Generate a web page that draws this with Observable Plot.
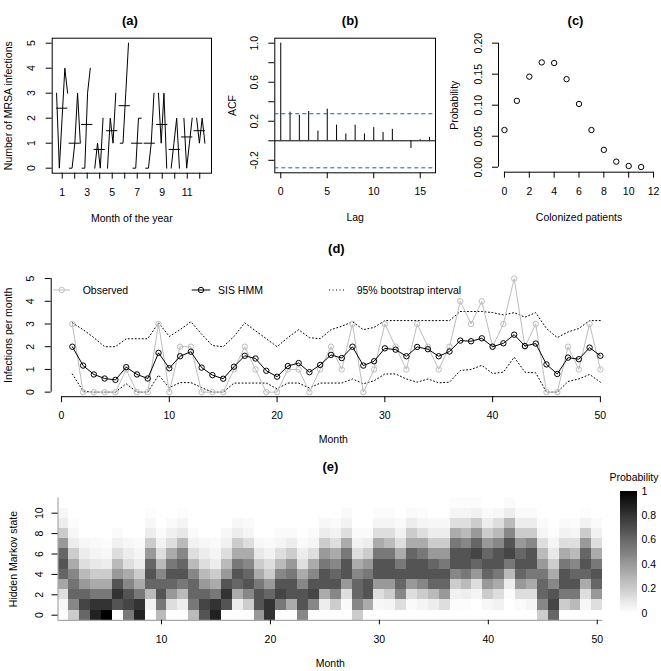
<!DOCTYPE html>
<html><head><meta charset="utf-8">
<script src="https://cdn.jsdelivr.net/npm/d3@7"></script>
<script src="https://cdn.jsdelivr.net/npm/@observablehq/plot@0.6"></script>
<style>
body{margin:0;background:#fff;}
#root{position:relative;width:661px;height:671px;overflow:hidden;background:#fff;}
#root svg{position:absolute;overflow:visible;}
</style></head><body><div id="root"></div>
<script>
// ---------------- DATA ----------------
const months = [1,2,3,4,5,6,7,8,9,10,11,12,13,14,15,16,17,18,19,20,21,22,23,24,25,26,27,28,29,30,31,32,33,34,35,36,37,38,39,40,41,42,43,44,45,46,47,48,49,50];
const observed = [3,0,0,0,0,1,0,0,3,0,2,2,0,0,0,1,2,1,0,0,1,1,0,1,2,1,3,0,1,3,2,1,3,2,1,2,4,3,4,2,3,5,2,3,0,0,2,1,3,1];
const sisHmm = [2.0,1.17,0.78,0.6,0.54,1.1,0.78,0.6,1.73,1.05,1.58,1.78,1.08,0.75,0.59,1.12,1.6,1.48,0.94,0.68,1.15,1.28,0.88,1.2,1.64,1.5,2.0,1.17,1.36,1.93,1.87,1.58,1.99,1.89,1.58,1.79,2.27,2.24,2.37,2.0,2.15,2.53,2.03,2.14,1.22,0.8,1.52,1.45,1.96,1.6];
const upper95 = [3.05,2.75,2.4,2.0,2.0,2.35,2.35,2.35,3.05,2.45,2.75,3.1,2.55,2.05,2.0,2.45,3.05,2.7,2.35,2.0,2.4,2.75,2.4,2.35,2.75,2.9,3.1,2.75,2.85,3.15,3.15,3.15,3.15,3.15,3.15,3.15,3.55,3.55,3.55,3.5,3.4,3.5,3.3,3.5,2.8,2.4,2.65,2.8,3.15,3.15];
const lower95 = [0.8,0.05,0,0,0,0.37,0,0,0.75,0.2,0.42,0.42,0.2,0,0,0.4,0.4,0.4,0.4,0.15,0.4,0.4,0.18,0.4,0.4,0.4,0.58,0.37,0.5,0.8,0.8,0.58,0.44,0.58,0.41,0.44,0.95,1.0,1.18,0.82,0.88,1.54,0.88,0.85,0,0,0.47,0.58,0.78,0.44];

const monthOfYear = [1,2,3,4,5,6,7,8,9,10,11,12];

const acfLag = [0,1,2,3,4,5,6,7,8,9,10,11,12,13,14,15,16];
const acfValue = [1.0,0.293,0.26,0.30,0.10,0.324,0.16,0.07,0.16,0.07,0.135,0.086,0.117,0.003,-0.08,0.01,0.035];
const acfBound = 0.277;

const colonized = [0,1,2,3,4,5,6,7,8,9,10,11];
const colonizedProb = [0.060,0.107,0.146,0.169,0.168,0.142,0.102,0.060,0.028,0.009,0.002,0.0003];

const hmmStates = [0,1,2,3,4,5,6,7,8,9,10,11];
// probability (legend scale) for states 0..11, one row per month 1..50
const stateProb = [
[0,0.03,0.13,0.35,0.6,0.67,0.6,0.4,0.2,0.07,0.03,0],
[0.2,0.47,0.6,0.55,0.47,0.33,0.2,0.07,0.03,0.01,0,0],
[0.6,0.73,0.6,0.4,0.27,0.13,0.07,0.03,0,0,0,0],
[0.87,0.8,0.53,0.33,0.2,0.09,0.04,0.02,0,0,0,0],
[1,0.8,0.53,0.33,0.2,0.07,0.03,0.01,0,0,0,0],
[0,0.67,0.8,0.67,0.4,0.27,0.13,0.06,0.02,0,0,0],
[0.53,0.73,0.67,0.47,0.33,0.13,0.07,0.03,0,0,0,0],
[0.87,0.8,0.53,0.33,0.2,0.07,0.04,0.02,0,0,0,0],
[0,0.05,0.27,0.6,0.67,0.6,0.4,0.2,0.07,0.03,0.01,0],
[0.27,0.53,0.67,0.6,0.47,0.27,0.13,0.05,0.02,0,0,0],
[0,0.13,0.4,0.6,0.67,0.53,0.33,0.13,0.06,0.02,0,0],
[0,0.07,0.27,0.53,0.67,0.6,0.47,0.27,0.09,0.04,0.01,0],
[0.27,0.53,0.6,0.6,0.47,0.27,0.13,0.05,0.02,0,0,0],
[0.67,0.73,0.6,0.4,0.27,0.13,0.07,0.03,0,0,0,0],
[0.87,0.8,0.53,0.33,0.2,0.07,0.04,0.02,0,0,0,0],
[0,0.67,0.8,0.67,0.4,0.27,0.13,0.06,0.03,0,0,0],
[0,0.07,0.33,0.6,0.67,0.53,0.33,0.2,0.07,0.03,0,0],
[0,0.2,0.47,0.67,0.6,0.47,0.33,0.13,0.04,0.02,0,0],
[0.4,0.67,0.67,0.53,0.33,0.2,0.09,0.03,0,0,0,0],
[0.8,0.8,0.6,0.4,0.2,0.13,0.05,0.02,0,0,0,0],
[0,0.53,0.73,0.67,0.47,0.27,0.13,0.04,0.02,0,0,0],
[0,0.33,0.67,0.67,0.53,0.4,0.2,0.07,0.02,0,0,0],
[0.47,0.67,0.67,0.47,0.33,0.13,0.07,0.02,0,0,0,0],
[0,0.47,0.73,0.67,0.47,0.33,0.13,0.04,0.02,0,0,0],
[0,0.07,0.33,0.67,0.67,0.53,0.4,0.2,0.07,0.03,0,0],
[0,0.2,0.47,0.67,0.6,0.47,0.33,0.13,0.05,0.02,0,0],
[0,0.02,0.13,0.4,0.67,0.67,0.53,0.33,0.13,0.05,0.02,0],
[0.2,0.47,0.6,0.6,0.47,0.33,0.13,0.05,0.02,0,0,0],
[0,0.33,0.67,0.67,0.53,0.4,0.2,0.07,0.02,0,0,0],
[0,0.03,0.13,0.4,0.67,0.67,0.53,0.33,0.13,0.04,0.01,0],
[0,0.04,0.2,0.4,0.67,0.67,0.53,0.27,0.13,0.04,0.01,0],
[0,0.13,0.47,0.6,0.67,0.53,0.33,0.13,0.05,0.02,0,0],
[0,0.02,0.13,0.4,0.67,0.67,0.6,0.33,0.2,0.07,0.02,0],
[0,0.04,0.2,0.47,0.67,0.67,0.53,0.33,0.13,0.04,0.01,0],
[0,0.07,0.27,0.6,0.67,0.6,0.4,0.2,0.07,0.03,0,0],
[0,0.13,0.4,0.6,0.67,0.53,0.4,0.2,0.07,0.03,0,0],
[0,0.01,0.05,0.2,0.47,0.67,0.67,0.53,0.33,0.13,0.04,0.01],
[0,0.01,0.07,0.27,0.53,0.67,0.67,0.47,0.27,0.13,0.04,0.01],
[0,0,0.04,0.13,0.4,0.6,0.73,0.6,0.4,0.2,0.05,0.01],
[0,0.03,0.2,0.4,0.6,0.67,0.6,0.4,0.2,0.07,0.02,0],
[0,0.05,0.13,0.33,0.53,0.67,0.67,0.47,0.27,0.13,0.03,0],
[0,0,0.01,0.07,0.27,0.53,0.73,0.67,0.47,0.27,0.07,0.02],
[0,0.02,0.13,0.4,0.6,0.67,0.6,0.4,0.2,0.07,0.02,0],
[0,0.04,0.13,0.33,0.53,0.67,0.67,0.47,0.2,0.07,0.02,0],
[0.2,0.47,0.6,0.6,0.53,0.4,0.27,0.13,0.04,0.02,0,0],
[0.6,0.73,0.67,0.47,0.33,0.2,0.09,0.04,0.01,0,0,0],
[0,0.2,0.53,0.67,0.67,0.53,0.33,0.13,0.05,0.02,0,0],
[0,0.27,0.53,0.67,0.6,0.47,0.27,0.13,0.04,0.01,0,0],
[0,0.03,0.13,0.33,0.6,0.67,0.6,0.4,0.2,0.05,0.01,0],
[0,0.13,0.4,0.6,0.67,0.53,0.33,0.13,0.05,0.02,0,0]
];

// tick values
const aYTicks = [0,1,2,3,4,5];
const bXTicks = [0,5,10,15];
const bYTicks = [-0.2,0,0.2,0.4,0.6,0.8,1.0];
const cXTicks = [0,2,4,6,8,10,12];
const cYTicks = [0,0.05,0.10,0.15,0.20];
const dXTicks = [0,10,20,30,40,50];
const dYTicks = [0,1,2,3,4,5];
const eXTicks = [10,20,30,40,50];
const eYTicks = [0,2,4,6,8,10];
const legendTicks = [0,0.2,0.4,0.6,0.8,1];

// ---------------- LAYOUT ----------------
const FONT = '"Liberation Sans", Arial, Helvetica, sans-serif';
const root = document.getElementById("root");
const baseStyle = {fontFamily: FONT, fontSize: "10.5px", background: "none", overflow: "visible", color: "black"};
function place(svg, left, top) { svg.style.left = left + "px"; svg.style.top = top + "px"; root.appendChild(svg); return svg; }
const txt = d => d;
const C = {textAnchor: "middle", lineAnchor: "middle", text: txt};
const title = (s, o) => Plot.text([s], {...C, frameAnchor: "top", fontWeight: "bold", fontSize: 13, ...o});
const ylab = (s, o) => Plot.text([s], {...C, frameAnchor: "left", rotate: -90, ...o});
const xlab = (s, o) => Plot.text([s], {...C, frameAnchor: "bottom", ...o});

// ---------- (a) month plot ----------
const span = months[months.length - 1] - months[0];
const obsRows = observed.map((v, i) => {
  const t = months[i], m = (t - 1) % 12 + 1;
  return {t, v, m, x: m + (t - months[0]) * 0.9 / span - 0.45};
});
const meanRows = monthOfYear.map(m => ({m, mean: d3.mean(obsRows.filter(d => d.m === m), d => d.v)}));

place(Plot.plot({
  width: 220, height: 230, marginLeft: 51.7, marginRight: 9, marginTop: 37.7, marginBottom: 57.3,
  x: {domain: [0.2, 12.94]}, y: {domain: [-0.2, 5.2]},
  style: baseStyle,
  marks: [
    Plot.frame({stroke: "black"}),
    Plot.line(obsRows, {x: "x", y: "v", z: "m", stroke: "black", strokeWidth: 1}),
    Plot.ruleY(meanRows, {y: "mean", x1: d => d.m - 0.45, x2: d => d.m + 0.45, stroke: "black"}),
    Plot.axisX({ticks: monthOfYear, tickSize: 6, tickPadding: 9, tickFormat: d => (d % 2 ? String(d) : ""), label: null}),
    Plot.axisY({ticks: aYTicks, tickSize: 6, tickPadding: 11, tickRotate: -90, tickFormat: d => String(d), label: null}),
    title("(a)", {dy: -17.7, dx: -2}),
    ylab("Number of MRSA infections", {dx: -43.4}),
    xlab("Month of the year", {dy: 45})
  ]
}), 0, 0);

// ---------- (b) ACF ----------
const acfRows = acfLag.map((l, i) => ({lag: l, acf: acfValue[i]}));
place(Plot.plot({
  width: 220, height: 230, marginLeft: 54.3, marginRight: 5, marginTop: 37.7, marginBottom: 57.7,
  x: {domain: [-0.64, 16.64]}, y: {domain: [-0.328, 1.051]},
  style: baseStyle,
  marks: [
    Plot.frame({stroke: "black"}),
    Plot.ruleY([0], {stroke: "black"}),
    Plot.ruleX(acfRows, {x: "lag", y1: 0, y2: "acf", stroke: "black"}),
    Plot.ruleY([acfBound, -acfBound], {stroke: "#1f55c8", strokeDasharray: "4,3"}),
    Plot.axisX({ticks: bXTicks, tickSize: 6, tickPadding: 9, tickFormat: d => String(d), label: null}),
    Plot.axisY({ticks: bYTicks, tickSize: 6, tickPadding: 11, tickRotate: -90,
      tickFormat: d => ((Math.round(d * 10) + 2) % 4 === 0 ? d.toFixed(1) : ""), label: null}),
    title("(b)", {dy: -17.7, dx: -5}),
    ylab("ACF", {dx: -42}),
    xlab("Lag", {dy: 45})
  ]
}), 220, 0);

// ---------- (c) stationary distribution ----------
const cXDom = [-0.48, 12.48], cYDom = [-0.008, 0.208];
const cRows = colonized.map((k, i) => ({k, p: colonizedProb[i]}));
place(Plot.plot({
  width: 221, height: 230, marginLeft: 58, marginRight: 2, marginTop: 37.7, marginBottom: 58.3,
  x: {domain: cXDom}, y: {domain: cYDom},
  style: baseStyle,
  marks: [
    Plot.ruleY([cYDom[0]], {x1: cXTicks[0], x2: cXTicks[cXTicks.length - 1], stroke: "black"}),
    Plot.ruleX([cXDom[0]], {y1: cYTicks[0], y2: cYTicks[cYTicks.length - 1], stroke: "black"}),
    Plot.dot(cRows, {x: "k", y: "p", r: 2.7, stroke: "black", strokeWidth: 1, fill: "none"}),
    Plot.axisX({ticks: cXTicks, tickSize: 6, tickPadding: 9, tickFormat: d => String(d), label: null}),
    Plot.axisY({ticks: cYTicks, tickSize: 6, tickPadding: 11, tickRotate: -90, tickFormat: d => d.toFixed(2), label: null}),
    title("(c)", {dy: -17.7, dx: -3.5}),
    ylab("Probability", {dx: -44}),
    xlab("Colonized patients", {dy: 45.5})
  ]
}), 440, 0);

// ---------- (d) observed vs fitted ----------
const dXDom = [-0.96, 51.96], dYDom = [-0.2, 5.2];
const dRows = months.map((t, i) => ({t, obs: observed[i], fit: sisHmm[i], hi: upper95[i], lo: lower95[i]}));
const GREY = "#bdbdbd";
const plotD = Plot.plot({
  width: 661, height: 215, marginLeft: 50.7, marginRight: 40, marginTop: 38.5, marginBottom: 53.8,
  x: {domain: dXDom}, y: {domain: dYDom},
  style: baseStyle,
  marks: [
    Plot.ruleY([dYDom[0]], {x1: dXTicks[0], x2: dXTicks[dXTicks.length - 1], stroke: "black"}),
    Plot.ruleX([dXDom[0]], {y1: dYTicks[0], y2: dYTicks[dYTicks.length - 1], stroke: "black"}),
    Plot.line(dRows, {x: "t", y: "hi", stroke: "black", strokeDasharray: "1,2.5", strokeWidth: 1}),
    Plot.line(dRows, {x: "t", y: "lo", stroke: "black", strokeDasharray: "1,2.5", strokeWidth: 1}),
    Plot.line(dRows, {x: "t", y: "obs", stroke: GREY, strokeWidth: 1}),
    Plot.dot(dRows, {x: "t", y: "obs", r: 2.7, stroke: GREY, fill: "none", strokeWidth: 1}),
    Plot.line(dRows, {x: "t", y: "fit", stroke: "black", strokeWidth: 1}),
    Plot.dot(dRows, {x: "t", y: "fit", r: 2.7, stroke: "black", fill: "none", strokeWidth: 1}),
    Plot.axisX({ticks: dXTicks, tickSize: 6, tickPadding: 8.5, tickFormat: d => String(d), label: null}),
    Plot.axisY({ticks: dYTicks, tickSize: 6, tickPadding: 11.4, tickRotate: -90, tickFormat: d => String(d), label: null}),
    title("(d)", {dy: -25}),
    ylab("Infections per month", {dx: -42.7}),
    xlab("Month", {dy: 43, dx: -3})
  ]
});
place(plotD, 0, 235);
// legend for (d)
{
  const g = d3.select(plotD).append("g").attr("font-family", FONT).attr("font-size", "10.5px").attr("text-anchor", "start");
  const ly = 55;
  const items = [
    {x1: 53.3, x2: 70, cx: 61.7, tx: 82.7, stroke: GREY, dash: null, dot: true, label: "Observed"},
    {x1: 191.7, x2: 210.3, cx: 201, tx: 218, stroke: "black", dash: null, dot: true, label: "SIS HMM"},
    {x1: 329, x2: 345, cx: null, tx: 356.7, stroke: "black", dash: "1,2.5", dot: false, label: "95% bootstrap interval"}
  ];
  for (const it of items) {
    g.append("line").attr("x1", it.x1).attr("x2", it.x2).attr("y1", ly).attr("y2", ly)
      .attr("stroke", it.stroke).attr("stroke-dasharray", it.dash);
    if (it.dot) g.append("circle").attr("cx", it.cx).attr("cy", ly).attr("r", 2.7).attr("fill", "none").attr("stroke", it.stroke);
    g.append("text").attr("x", it.tx).attr("y", ly).attr("dy", "0.35em").attr("text-anchor", "start").attr("fill", "black").text(it.label);
  }
}

// ---------- (e) hidden state heatmap ----------
const colorScale = {type: "linear", domain: [0, 1], range: ["white", "black"]};
const cellRows = [];
stateProb.forEach((col, i) => col.forEach((p, s) => cellRows.push({month: months[i], state: hmmStates[s], p})));
const eXDom = [0.5, 50.5], eYDom = [-0.5, 11.5];
place(Plot.plot({
  width: 661, height: 216, marginLeft: 57.5, marginRight: 58.8, marginTop: 42.4, marginBottom: 51.2,
  x: {domain: eXDom}, y: {domain: eYDom},
  color: colorScale,
  style: baseStyle,
  marks: [
    Plot.rect(cellRows, {x1: d => d.month - 0.5, x2: d => d.month + 0.5, y1: d => d.state - 0.5, y2: d => d.state + 0.5,
      fill: "p", shapeRendering: "crispEdges"}),
    Plot.ruleY([eYDom[0]], {stroke: "#a8a8a8", strokeWidth: 1.2}),
    Plot.ruleX([eXDom[0]], {stroke: "#a8a8a8", strokeWidth: 1.2}),
    Plot.axisX({ticks: eXTicks, tickSize: 4.5, tickPadding: 10.5, tickFormat: d => String(d), label: null}),
    Plot.axisY({ticks: eYTicks, tickSize: 6, tickPadding: 9, tickRotate: -90, tickFormat: d => String(d), label: null}),
    title("(e)", {dy: -31.4}),
    ylab("Hidden Markov state", {dx: -44.2}),
    xlab("Month", {dy: 43.5})
  ]
}), 0, 455);

// colour bar legend
const legendSteps = d3.range(0, 64).map(i => ({lo: i / 64, hi: (i + 1) / 64, mid: (i + 0.5) / 64}));
place(Plot.plot({
  width: 61, height: 160, marginLeft: 20, marginRight: 24, marginTop: 20.7, marginBottom: 17.3,
  x: {domain: [0, 1], axis: null}, y: {domain: [0, 1], axis: null},
  color: colorScale,
  style: baseStyle,
  marks: [
    Plot.rect(legendSteps, {x1: 0, x2: 1, y1: "lo", y2: "hi", fill: "mid", shapeRendering: "crispEdges"}),
    Plot.axisY({anchor: "right", ticks: legendTicks, tickSize: 0, tickPadding: 4, tickFormat: d => String(+d.toFixed(1)), label: null}),
    Plot.text(["Probability"], {...C, frameAnchor: "top", dy: -13.4, dx: 5})
  ]
}), 600, 470);
</script>
</body></html>
